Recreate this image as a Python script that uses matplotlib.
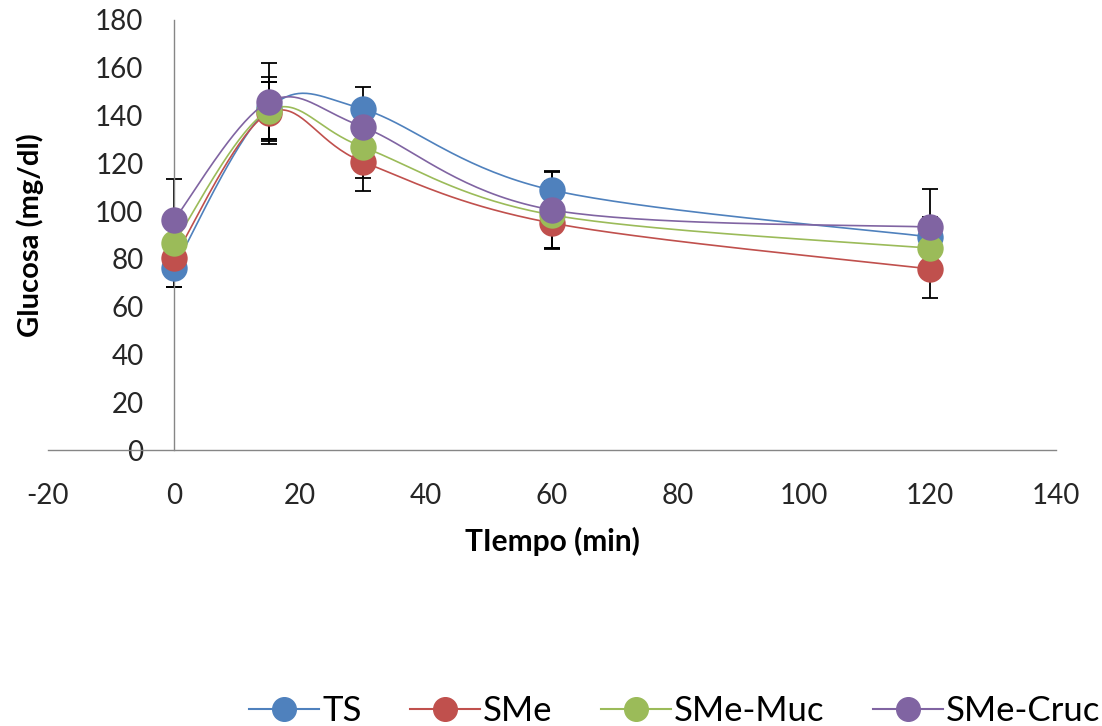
import numpy as np
import matplotlib
matplotlib.use("Agg")
import matplotlib.pyplot as plt

plt.rcParams['font.family'] = ['Lato', 'DejaVu Sans']
plt.rcParams['axes.unicode_minus'] = False

# datos
tiempo = [0, 15, 30, 60, 120]
series = ["TS", "SMe", "SMe-Muc", "SMe-Cruc"]
ts = [76.2, 143.0, 142.7, 108.8, 89.2]
sme = [80.4, 141.0, 120.6, 95.0, 75.8]
sme_muc = [86.6, 142.0, 126.8, 98.4, 84.5]
sme_cruc = [96.3, 145.7, 135.2, 100.5, 93.3]
err_ts = [8.0, 13.0, 9.2, 8.0, 8.3]
err_sme = [12.0, 13.0, 12.0, 11.0, 12.0]
err_muc = [10.0, 12.0, 13.0, 14.0, 10.0]
err_cruc = [17.0, 16.5, 8.0, 16.0, 16.0]
colores = ["#4F81BD", "#C0504D", "#9BBB59", "#8064A2"]


def suavizar(ax, x, y, n=40):
    # curva suavizada tipo Excel (Catmull-Rom en coordenadas de pantalla)
    p = ax.transData.transform(np.column_stack([x, y]))
    pts = np.vstack([p[0], p, p[-1]])
    salida = []
    for i in range(1, len(pts) - 2):
        p0, p1, p2, p3 = pts[i - 1], pts[i], pts[i + 1], pts[i + 2]
        c1 = p1 + (p2 - p0) / 6.0
        c2 = p2 - (p3 - p1) / 6.0
        t = np.linspace(0, 1, n)[:, None]
        b = ((1 - t) ** 3) * p1 + 3 * ((1 - t) ** 2) * t * c1 \
            + 3 * (1 - t) * t ** 2 * c2 + t ** 3 * p2
        salida.append(b)
    curva = ax.transData.inverted().transform(np.vstack(salida))
    return curva[:, 0], curva[:, 1]


fig = plt.figure(figsize=(11.02, 7.26), dpi=100)
ax = fig.add_axes([48 / 1102, 1 - 450 / 726, 1008 / 1102, 430 / 726])
ax.set_xlim(-20, 140)
ax.set_ylim(0, 180)
ax.set_xticks(np.arange(-20, 141, 20))
ax.set_yticks(np.arange(0, 181, 20))

for sp in ['top', 'right']:
    ax.spines[sp].set_visible(False)
ax.spines['left'].set_position(('data', 0))
ax.spines['left'].set_color('#868686')
ax.spines['bottom'].set_color('#868686')
ax.spines['left'].set_linewidth(1.0)
ax.spines['bottom'].set_linewidth(1.0)
ax.tick_params(axis='both', length=0, labelsize=20, labelcolor='#262626')
ax.tick_params(axis='y', pad=22)
ax.tick_params(axis='x', pad=24)

datos = [ts, sme, sme_muc, sme_cruc]
errores = [err_ts, err_sme, err_muc, err_cruc]
for k, (nombre, y, e, c) in enumerate(zip(series, datos, errores, colores)):
    z = 3 + k * 3
    ax.errorbar(tiempo, y, yerr=e, fmt='none', ecolor='black', elinewidth=1.3,
                capsize=6, capthick=1.3, zorder=2)
    xs, ys = suavizar(ax, tiempo, y)
    ax.plot(xs, ys, color=c, lw=1.2, zorder=z + 1)
    ax.plot(tiempo, y, 'o', color=c, markersize=19, markeredgewidth=0,
            zorder=z + 2)
    ax.plot([], [], '-o', color=c, lw=1.5, markersize=17, label=nombre)

ax.set_ylabel("Glucosa (mg/dl)", fontsize=21, fontweight='bold',
              ha='center', va='center')
ax.yaxis.set_label_coords(-0.018, 0.5)
ax.set_xlabel("TIempo (min)", fontsize=21.5, fontweight='bold', va='center')
ax.xaxis.set_label_coords(0.5, -0.212)

fig.legend(loc='center', bbox_to_anchor=(0.6125, 0.021), ncol=4,
           frameon=False, fontsize=25, handlelength=2.0, handletextpad=0.1,
           columnspacing=1.4, borderpad=0)

fig.savefig("out.png", dpi=100)
